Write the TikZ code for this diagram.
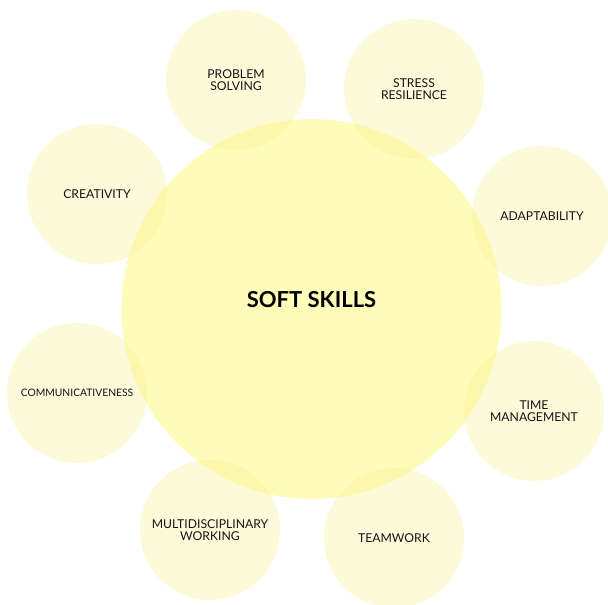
\documentclass[tikz,border=0pt]{standalone}
\usepackage{fontspec}
\setmainfont{Lato}
\usetikzlibrary{positioning}

\definecolor{skillyellow}{RGB}{248,238,140}
\definecolor{hubyellow}{RGB}{255,250,140}
\definecolor{skilltext}{RGB}{20,20,20}

\begin{document}
\begin{tikzpicture}[
    x=1pt, y=-1pt,
    hub/.style={
        circle,
        fill=hubyellow,
        fill opacity=0.6,
        minimum size=380pt,
        inner sep=0pt
    },
    hubtext/.style={
        font=\fontsize{22}{24}\selectfont\bfseries,
        text=black
    },
    skill/.style={
        circle,
        fill=skillyellow,
        fill opacity=0.32,
        text opacity=1,
        text=skilltext,
        align=center,
        minimum size=140pt,
        inner sep=0pt,
        font=\fontsize{12.2}{12.5}\selectfont
    },
    smallskill/.style={
        skill,
        font=\fontsize{10.3}{11}\selectfont
    }
]

% Page frame
\useasboundingbox (0, 0) rectangle (608, 605);

% ========== CENTRE ==========

\node[hub] (soft) at (311.5, 309) {};
\node[hubtext] (softlabel) at (311.5, 300) {SOFT SKILLS};

% ========== SKILLS ==========

\node[skill] (problem) at (236, 80) {PROBLEM\\SOLVING};
\node[skill] (stress) at (414, 89) {STRESS\\RESILIENCE};
\node[skill] (creativity) at (97, 194) {CREATIVITY};
\node[skill] (adapt) at (542, 216) {ADAPTABILITY};
\node[smallskill] (communic) at (77, 393) {COMMUNICATIVENESS};
\node[skill] (time) at (534, 411) {TIME\\MANAGEMENT};
\node[skill] (multi) at (210, 530) {MULTIDISCIPLINARY\\WORKING};
\node[skill] (team) at (394, 538) {TEAMWORK};

\end{tikzpicture}
\end{document}
